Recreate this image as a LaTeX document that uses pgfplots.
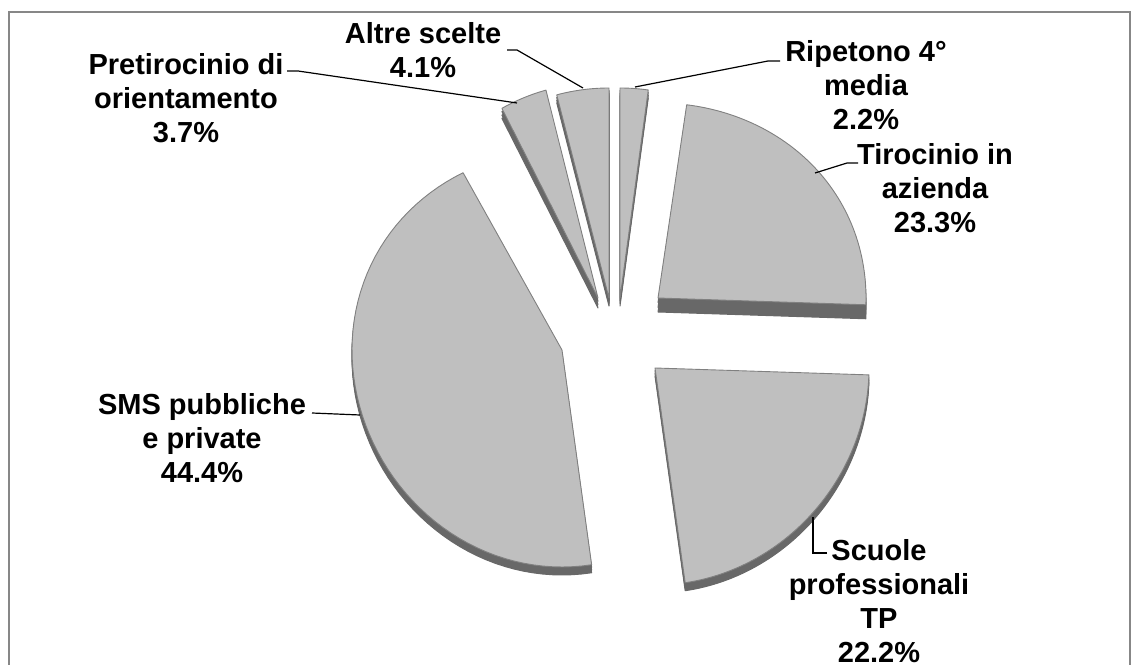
\documentclass[border=0pt]{standalone}
\usepackage{pgfplots}
\pgfplotsset{compat=1.18}
\usepackage{pgfplotstable}
\usepackage{fontspec}
\setmainfont{Liberation Sans}
\definecolor{topgray}{HTML}{BFBFBF}
\definecolor{edgegray}{HTML}{808080}
\definecolor{sidegray}{HTML}{686868}
\definecolor{framegray}{HTML}{878787}
\tikzset{
  side/.style={fill=sidegray, draw=sidegray, line width=1pt, line join=round},
  top/.style={fill=topgray, draw=edgegray, line width=0.9pt, line join=round},
  lab/.style={font=\fontsize{29}{34}\selectfont\bfseries, align=center, inner sep=0pt},
}

% slice shares (percent), in Excel order (clockwise from 12 o'clock)
\pgfplotstableread{
value
2.2
23.3
22.2
44.4
3.7
4.1
}\piedata
\pgfplotstablegetelem{0}{value}\of\piedata \let\vA\pgfplotsretval
\pgfplotstablegetelem{1}{value}\of\piedata \let\vB\pgfplotsretval
\pgfplotstablegetelem{2}{value}\of\piedata \let\vC\pgfplotsretval
\pgfplotstablegetelem{3}{value}\of\piedata \let\vD\pgfplotsretval
\pgfplotstablegetelem{4}{value}\of\piedata \let\vE\pgfplotsretval
\pgfplotstablegetelem{5}{value}\of\piedata \let\vF\pgfplotsretval
\pgfmathsetmacro\tot{\vA+\vB+\vC+\vD+\vE+\vF}
\pgfmathsetmacro\aA{0}
\pgfmathsetmacro\aB{\aA+360*\vA/\tot}
\pgfmathsetmacro\aC{\aB+360*\vB/\tot}
\pgfmathsetmacro\aD{\aC+360*\vC/\tot}
\pgfmathsetmacro\aE{\aD+360*\vD/\tot}
\pgfmathsetmacro\aF{\aE+360*\vE/\tot}
\pgfmathsetmacro\aG{\aF+360*\vF/\tot}

% #1 start angle, #2 end angle, #3 apex x, #4 apex y (from top), #5 rx,
% #6 ry towards top, #7 ry towards bottom, #8 drop, #9 style
\newcommand{\slicepath}[9]{%
\addplot[#9, mark=none, domain=-1:61, samples=63, variable=\t]
 ({#3+((\t>-0.5)*(\t<60.5))*#5*sin(#1+(#2-#1)*min(max(\t,0),60)/60)},
  {664-#4-#8+((\t>-0.5)*(\t<60.5))*((#6+#7)/2+(#6-#7)/2*cos(#1+(#2-#1)*min(max(\t,0),60)/60))*cos(#1+(#2-#1)*min(max(\t,0),60)/60)}) -- cycle;
}
\newcommand{\slice}[8]{%
 \slicepath{#1}{#2}{#3}{#4}{#5}{#6}{#7}{#8}{side}%
 \slicepath{#1}{#2}{#3}{#4}{#5}{#6}{#7}{(#8*0.67)}{side}%
 \slicepath{#1}{#2}{#3}{#4}{#5}{#6}{#7}{(#8*0.33)}{side}%
 \slicepath{#1}{#2}{#3}{#4}{#5}{#6}{#7}{0}{top}%
}

\begin{document}
\begin{tikzpicture}
\useasboundingbox (0,0) rectangle (1135pt,664pt);
\clip (0,0) rectangle (1135pt,664pt);
\begin{axis}[
  scale only axis, width=1135pt, height=664pt,
  xmin=0, xmax=1135, ymin=0, ymax=664,
  hide axis, clip=false,
]
% frame
\draw[framegray, line width=1.5pt] (axis cs:9,-10) rectangle (axis cs:1130,652);

% slices: start, end, apex x, apex y, rx, ry(top), ry(bottom), depth
\slice{\aA}{\aB}{620}{298}{205}{210}{215}{8}
\slice{\aB}{\aC}{658}{298}{208}{195}{215}{14}
\slice{\aC}{\aD}{655}{368}{214}{200}{217}{8}
\slice{\aD}{\aE}{562}{350}{210}{200}{217}{8}
\slice{\aE}{\aF}{598}{298}{204}{215}{215}{10}
\slice{\aF}{\aG}{609}{298}{205}{210}{215}{8}

% leader lines
\draw[black, line width=1.2pt] (axis cs:287,593) -- (axis cs:298,593) -- (axis cs:517,561);
\draw[black, line width=1.2pt] (axis cs:507,614) -- (axis cs:517,614) -- (axis cs:583,576);
\draw[black, line width=1.2pt] (axis cs:780,603) -- (axis cs:768,603) -- (axis cs:635,577);
\draw[black, line width=1.2pt] (axis cs:858,501) -- (axis cs:847,501) -- (axis cs:815,491);
\draw[black, line width=1.2pt] (axis cs:312,251) -- (axis cs:360,249);
\draw[black, line width=1.2pt] (axis cs:827,111) -- (axis cs:813,111) -- (axis cs:813,147);

% labels
\node[lab] at (axis cs:186,566) {Pretirocinio di\\orientamento\\3.7\%};
\node[lab] at (axis cs:423,613.5) {Altre scelte\\4.1\%};
\node[lab] at (axis cs:866,579) {Ripetono 4°\\media\\2.2\%};
\node[lab] at (axis cs:935,476) {Tirocinio in\\azienda\\23.3\%};
\node[lab] at (axis cs:202,226) {SMS pubbliche\\e private\\44.4\%};
\node[lab] at (axis cs:879,63) {Scuole\\professionali\\TP\\22.2\%};
\end{axis}
\end{tikzpicture}
\end{document}
